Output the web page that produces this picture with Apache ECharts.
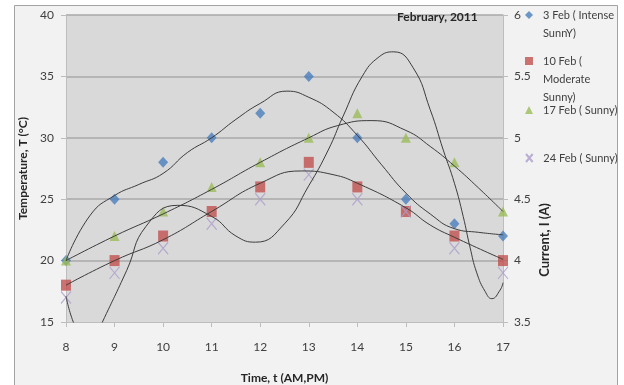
<!DOCTYPE html>
<html>
<head>
<meta charset="utf-8">
<script src="https://cdn.jsdelivr.net/npm/echarts@6/dist/echarts.min.js"></script>
<style>
  html, body { margin: 0; padding: 0; background: #ffffff; }
  #chart { width: 624px; height: 385px; }
</style>
</head>
<body>
<div id="chart"></div>
<script>
// Hourly temperature readings (°C), February 2011
const hours = [8, 9, 10, 11, 12, 13, 14, 15, 16, 17];
const temp3Feb  = [20, 25, 28, 30, 32, 35, 30, 25, 23, 22];
const temp10Feb = [18, 20, 22, 24, 26, 28, 26, 24, 22, 20];
const temp17Feb = [20, 22, 24, 26, 28, 30, 32, 30, 28, 24];
const temp24Feb = [17, 19, 21, 23, 25, 27, 25, 24, 21, 19];

const seriesNames = ['3 Feb ( Intense SunnY)', '10 Feb ( Moderate Sunny)', '17 Feb ( Sunny)', '24 Feb ( Sunny)'];
const legendLines = [['3 Feb ( Intense', 'SunnY)'], ['10 Feb (', 'Moderate', 'Sunny)'], ['17 Feb ( Sunny)'], ['24 Feb ( Sunny)']];

// Current (A) curves on the right axis
const curHours3Feb = [8, 8.5, 9, 9.5, 10, 10.5, 11, 11.5, 12, 12.55, 13, 13.5, 14, 14.5, 15, 15.5, 16, 16.5, 17];
const cur3Feb      = [4.00, 4.37, 4.53, 4.62, 4.71, 4.88, 5.00, 5.15, 5.28, 5.38, 5.33, 5.21, 5.02, 4.78, 4.55, 4.38, 4.26, 4.23, 4.21];

const curHours10Feb = [8, 9, 10, 11, 12, 12.85, 13.5, 14, 15, 15.5, 16, 17];
const cur10Feb      = [3.80, 4.00, 4.17, 4.40, 4.63, 4.73, 4.70, 4.63, 4.43, 4.29, 4.19, 4.01];

const curHours17Feb = [8, 9, 10, 11, 12, 13, 13.6, 14.3, 15, 15.5, 16, 16.5, 17];
const cur17Feb      = [4.00, 4.20, 4.38, 4.58, 4.80, 5.00, 5.10, 5.14, 5.06, 4.93, 4.77, 4.59, 4.40];

const curHours24Feb = [8, 8.15, 8.45, 8.75, 9.25, 9.65, 10.3, 11, 11.5, 11.9, 12.5, 13, 13.4, 13.7, 14.1, 14.45, 14.75, 15.15, 15.5, 15.77, 16, 16.18, 16.32, 16.46, 16.63, 16.77, 16.94, 17];
const cur24Feb      = [3.71, 3.50, 3.25, 3.50, 3.92, 4.28, 4.45, 4.36, 4.20, 4.15, 4.30, 4.61, 4.90, 5.17, 5.50, 5.66, 5.70, 5.57, 5.23, 4.90, 4.63, 4.36, 4.11, 3.90, 3.75, 3.69, 3.76, 3.82];

// Axis ranges
const hourRange = [8, 17], hourStep = 1;
const tempRange = [15, 40], tempStep = 5;
const currentRange = [3.5, 6], currentStep = 0.5;

const markerColors = ['#4a7ebb', '#c0504d', '#9bbb59', '#ab9ccb'];
const FONT = 'Lato, "Open Sans", sans-serif';
const TEXT = '#404040';

const pairs = (xs, ys) => xs.map((x, i) => [x, ys[i]]);

const chart = echarts.init(document.getElementById('chart'), null, { renderer: 'canvas' });

const scatter = (idx, temps, symbol, size, style) => ({
  name: seriesNames[idx],
  type: 'scatter',
  yAxisIndex: 0,
  symbol: symbol,
  symbolSize: size,
  itemStyle: style,
  z: 2,
  data: pairs(hours, temps)
});

const curve = (xs, ys) => ({
  type: 'line',
  yAxisIndex: 1,
  smooth: 0.5,
  showSymbol: false,
  silent: true,
  clip: true,
  z: 3,
  lineStyle: { color: '#3c3c3c', width: 1 },
  data: pairs(xs, ys)
});

// one legend block per series so the icon lines up with the first text line
const legendTops = [-12, 16, 101, 149];
const legends = legendLines.map((lines, i) => {
  const padded = Array(lines.length - 1).fill('').concat(lines).join('\n');
  return {
    data: [seriesNames[i]],
    orient: 'vertical',
    left: 525,
    top: legendTops[i],
    padding: 0,
    itemWidth: 8,
    itemHeight: 8,
    itemGap: 0,
    selectedMode: false,
    formatter: () => padded,
    textStyle: { fontFamily: FONT, fontSize: 11, color: TEXT, lineHeight: 18, padding: [0, 0, 0, 5] }
  };
});

const option = {
  backgroundColor: '#ffffff',
  animation: false,
  textStyle: { fontFamily: FONT },
  title: {
    text: 'February, 2011',
    left: 397,
    top: 11,
    padding: 0,
    textStyle: { fontFamily: FONT, fontSize: 12, fontWeight: 'bold', color: '#262626' }
  },
  legend: legends,
  graphic: [
    {
      type: 'rect',
      z: -100,
      shape: { x: 14.5, y: 5.5, width: 603, height: 400 },
      style: { fill: '#f2f2f2', stroke: '#a3a3a3', lineWidth: 1 }
    },
    {
      type: 'text',
      x: 545,
      y: 240,
      rotation: Math.PI / 2,
      style: {
        text: 'Current, I (A)',
        font: 'bold 13px ' + FONT,
        fill: '#262626',
        align: 'center',
        verticalAlign: 'middle',
        textAlign: 'center',
        textVerticalAlign: 'middle'
      }
    }
  ],
  grid: {
    left: 66, right: 121, top: 15, bottom: 63,
    outerBoundsMode: 'none',
    containLabel: false,
    show: true, backgroundColor: '#d9d9d9', borderWidth: 0
  },
  xAxis: {
    type: 'value',
    min: hourRange[0], max: hourRange[1], interval: hourStep,
    name: 'Time, t (AM,PM)',
    nameLocation: 'middle',
    nameGap: 50,
    nameTextStyle: { fontFamily: FONT, fontSize: 12, fontWeight: 'bold', color: '#262626' },
    axisLine: { lineStyle: { color: '#bdbdbd', width: 1 } },
    axisTick: { show: true, inside: false, length: 5, lineStyle: { color: '#bdbdbd' } },
    axisLabel: { fontFamily: FONT, fontSize: 12, color: TEXT, margin: 19 },
    splitLine: { show: false }
  },
  yAxis: [
    {
      type: 'value',
      position: 'left',
      min: tempRange[0], max: tempRange[1], interval: tempStep,
      name: 'Temperature, T (°C)',
      nameLocation: 'middle',
      nameRotate: 90,
      nameGap: 28,
      nameTextStyle: { fontFamily: FONT, fontSize: 12, fontWeight: 'bold', color: '#262626' },
      axisLine: { show: true, lineStyle: { color: '#bdbdbd', width: 1 } },
      axisTick: { show: true, inside: false, length: 5, lineStyle: { color: '#bdbdbd' } },
      axisLabel: { fontFamily: FONT, fontSize: 12, color: TEXT, margin: 12 },
      splitLine: { show: true, showMinLine: false, lineStyle: { color: '#a8a8a8', width: 1.5 } }
    },
    {
      type: 'value',
      position: 'right',
      min: currentRange[0], max: currentRange[1], interval: currentStep,
      axisLine: { show: true, lineStyle: { color: '#bdbdbd', width: 1 } },
      axisTick: { show: true, inside: false, length: 5, lineStyle: { color: '#bdbdbd' } },
      axisLabel: { fontFamily: FONT, fontSize: 12, color: TEXT, margin: 11 },
      splitLine: { show: false }
    }
  ],
  series: [
    scatter(0, temp3Feb, 'diamond', [10, 11], { color: markerColors[0] }),
    scatter(1, temp10Feb, 'rect', [10, 11], { color: markerColors[1] }),
    scatter(2, temp17Feb, 'triangle', [10, 10], { color: markerColors[2] }),
    scatter(3, temp24Feb, 'path://M0,0L10,12M10,0L0,12', [10, 12],
      { color: 'transparent', borderColor: markerColors[3], borderWidth: 1.2 }),
    curve(curHours3Feb, cur3Feb),
    curve(curHours10Feb, cur10Feb),
    curve(curHours17Feb, cur17Feb),
    curve(curHours24Feb, cur24Feb)
  ]
};

chart.setOption(option);
</script>
</body>
</html>
